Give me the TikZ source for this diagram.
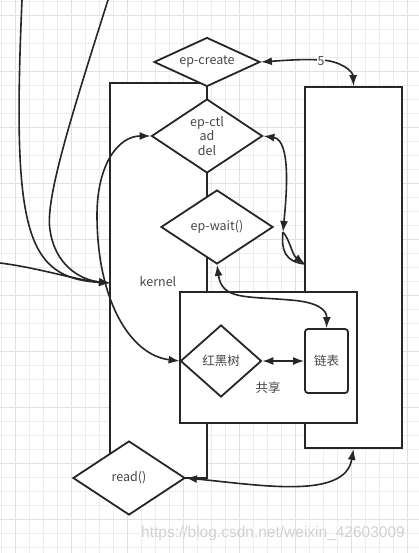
\documentclass[tikz,border=0pt]{standalone}
\usepackage{fontspec}
\setmainfont{Noto Sans CJK SC}
\newfontfamily\wmfont{Liberation Sans}
\usetikzlibrary{shapes.geometric,arrows.meta}
\begin{document}
\begin{tikzpicture}[x=1pt,y=-1pt,
  >={Latex[length=11pt,width=8pt]},
  gridminor/.style={draw=black!7, line width=0.6pt},
  gridmajor/.style={draw=black!12, line width=0.8pt},
  shapeline/.style={draw=black!85, line width=1.8pt, fill=white},
  dia/.style={shapeline, diamond, shape aspect=1.5, inner sep=0pt, text=black!72, font=\fontsize{12.5}{14.5}\selectfont, align=center},
  box/.style={shapeline, rectangle, inner sep=0pt},
  conn/.style={draw=black!85, line width=1.6pt},
  lbl/.style={text=black!72, font=\fontsize{12.5}{14.5}\selectfont, inner sep=0pt}
]
\useasboundingbox (0,0) rectangle (419,553);
\fill[white] (0,0) rectangle (419,553);
% grid
\foreach \i in {0,...,29} \draw[gridminor] ({1+14*\i},0) -- ({1+14*\i},553);
\foreach \i in {0,...,39} \draw[gridminor] (0,{1+14*\i}) -- (419,{1+14*\i});
\foreach \i in {0,...,7} \draw[gridmajor] ({15+56*\i},0) -- ({15+56*\i},553);
\foreach \i in {0,...,9} \draw[gridmajor] (0,{15+56*\i}) -- (419,{15+56*\i});

% boxes
\node[box, minimum width=97pt, minimum height=395pt] (kernelbox) at (158.5,280.5) {};
\node[box, minimum width=97pt, minimum height=361pt] (rb) at (353.5,267.5) {};
\node[box, minimum width=177pt, minimum height=131pt] (shared) at (268.5,357.5) {};

% diamonds
\node[dia, minimum width=106pt, minimum height=49pt] (epc) at (207,62) {ep-create};
\node[dia, minimum width=111pt, minimum height=74pt] (ectl) at (207,136) {ep-ctl\\ad\\del};
\node[dia, minimum width=112pt, minimum height=74pt] (epw) at (217,227) {ep-wait()};
\node[dia, minimum width=81pt, minimum height=72pt] (rbt) at (221,361) {红黑树};
\node[box, rounded corners=3pt, minimum width=43pt, minimum height=64pt, text=black!72, font=\fontsize{12.5}{14.5}\selectfont] (list) at (326.5,361) {链表};
\node[dia, minimum width=112pt, minimum height=74pt] (rd) at (129,478) {read()};

% texts
\node[lbl] (kerneltxt) at (158,282) {kernel};
\node[lbl] (sharetxt) at (268,388) {共享};
\node[text=black!18, font=\wmfont\fontsize{15.5}{16}\selectfont, inner sep=0pt] (wm) at (273,533) {https://blog.csdn.net/weixin\_42603009};

% free ends
\coordinate (kin) at (110,283);
\coordinate (s1) at (0,263);
\coordinate (s2) at (22,0);
\coordinate (s3) at (108,0);
\coordinate (wp) at (283,232);
\coordinate (rbw) at (305,264);

% connectors
\draw[conn,->] (s1) .. controls (40,268) and (75,280) .. (kin);
\draw[conn,->] (s2) .. controls (12,230) and (25,278) .. (kin);
\draw[conn,->] (s3) .. controls (70,120) and (45,200) .. (50,230) .. controls (55,265) and (80,280) .. (kin);

\draw[conn,<->] (epc.east) .. controls (290,60) and (305,59) .. (321,60) .. controls (342,61) and (353,72) .. (rb.north);
\node[lbl, fill=white, inner sep=1pt] (five) at (321,61) {5};

\draw[conn,<->] (ectl.east) .. controls (292,140) and (286,200) .. (wp);
\draw[conn] (wp) .. controls (281,250) and (285,262) .. (rbw);
\draw[conn,->] (wp) .. controls (290,240) and (292,255) .. (rbw);

\draw[conn,<->] (epw.south) .. controls (222,300) and (245,296) .. (290,300) .. controls (318,302) and (327,310) .. (list.north);

\draw[conn,<->] (ectl.west) .. controls (118,136) and (97,165) .. (97,215) .. controls (97,300) and (130,355) .. (rbt.west);

\draw[conn,<->] (rbt.east) -- (list.west);

\draw[conn,<->] (rd.east) .. controls (260,485) and (345,500) .. (rb.south);
\end{tikzpicture}
\end{document}
